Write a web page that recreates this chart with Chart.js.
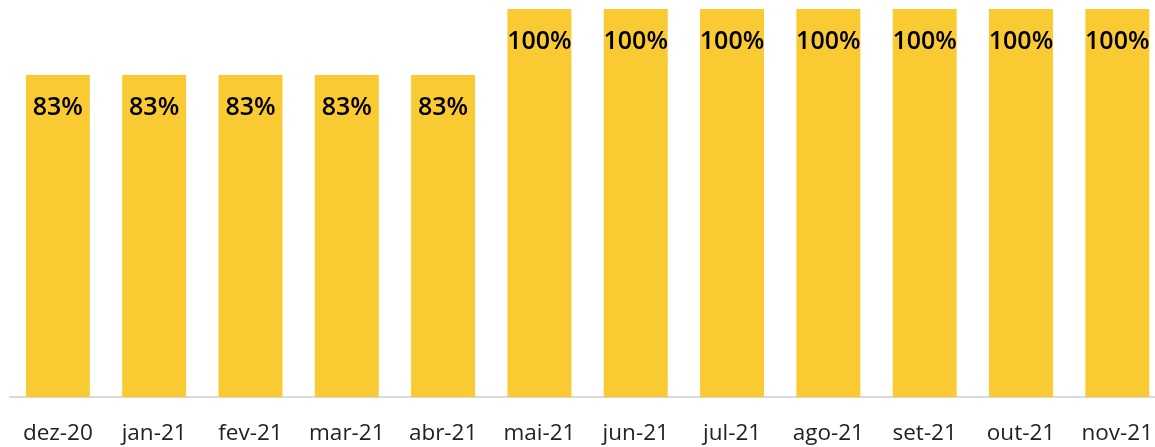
<!DOCTYPE html>
<html>
<head>
<meta charset="utf-8">
<script src="https://cdn.jsdelivr.net/npm/chart.js@4"></script>
<style>
  html, body { margin: 0; padding: 0; background: #fff; overflow: hidden; }
  #wrap { width: 1176px; height: 447px; }
</style>
</head>
<body>
<div id="wrap"><canvas id="myChart"></canvas></div>
<script>
// Chart data
const months = ['dez-20', 'jan-21', 'fev-21', 'mar-21', 'abr-21', 'mai-21',
                'jun-21', 'jul-21', 'ago-21', 'set-21', 'out-21', 'nov-21'];
const percentValues = [83, 83, 83, 83, 83, 100, 100, 100, 100, 100, 100, 100];

// Draws the % label near the top inside each bar
const barLabels = {
  id: 'barLabels',
  afterDatasetsDraw(chart) {
    const ctx = chart.ctx;
    const meta = chart.getDatasetMeta(0);
    ctx.save();
    ctx.font = '600 25px "Open Sans"';
    ctx.fillStyle = '#000000';
    ctx.textAlign = 'center';
    ctx.textBaseline = 'middle';
    meta.data.forEach((bar, i) => {
      ctx.fillText(percentValues[i] + '%', bar.x, bar.y + 33);
    });
    ctx.restore();
  }
};

const ctx = document.getElementById('myChart').getContext('2d');
const myChart = new Chart(ctx, {
  type: 'bar',
  data: {
    labels: months,
    datasets: [{
      data: percentValues,
      backgroundColor: '#F9CA32',
      borderWidth: 0,
      categoryPercentage: 1,
      barPercentage: 0.664
    }]
  },
  options: {
    responsive: true,
    maintainAspectRatio: false,
    animation: false,
    layout: { padding: { top: 9, left: 8, right: 0, bottom: 0 } },
    scales: {
      x: {
        grid: { display: false, drawTicks: false },
        border: { color: '#D9D9D9', width: 2 },
        afterFit: (axis) => { axis.height = 50; },
        ticks: {
          color: '#222222',
          padding: 23,
          maxRotation: 0,
          font: { family: 'Open Sans', size: 22.5 }
        }
      },
      y: {
        display: false,
        min: 0,
        max: 100
      }
    },
    plugins: {
      legend: { display: false },
      tooltip: { enabled: false }
    }
  },
  plugins: [barLabels]
});
</script>
</body>
</html>
